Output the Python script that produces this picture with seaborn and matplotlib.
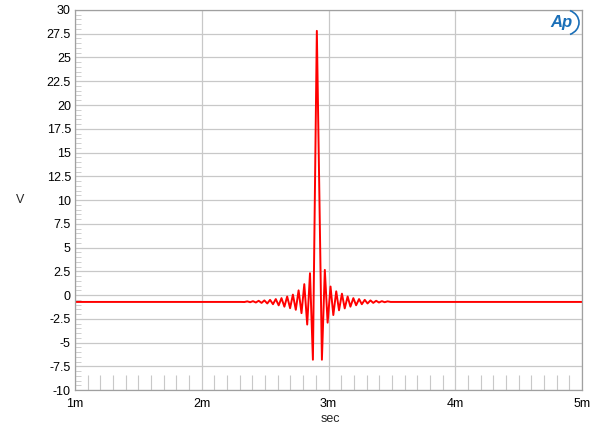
import numpy as np
import pandas as pd
import matplotlib
matplotlib.use("Agg")
import matplotlib.pyplot as plt
import seaborn as sns
from matplotlib.patches import Arc

# time in ms, level in V
lead_t = [1.0, 2.31]
lead_v = [-0.72, -0.72]

ring_t = [2.337, 2.359, 2.382, 2.404, 2.427, 2.449, 2.472, 2.494, 2.517, 2.539,
          2.562, 2.584, 2.607, 2.629, 2.652, 2.674, 2.697, 2.719, 2.742, 2.764,
          2.787, 2.809, 2.832, 2.854, 2.877,
          2.908,
          2.948, 2.971, 2.993, 3.016, 3.038, 3.061, 3.083, 3.106, 3.128, 3.151,
          3.173, 3.196, 3.218, 3.241, 3.263, 3.286, 3.308, 3.331, 3.353, 3.376,
          3.398, 3.421, 3.443, 3.466]
ring_v = [-0.73, -0.66, -0.75, -0.64, -0.78, -0.60, -0.82, -0.56, -0.88, -0.50,
          -0.96, -0.42, -1.08, -0.32, -1.22, -0.15, -1.38, 0.05, -1.55, 0.50,
          -1.90, 1.15, -3.10, 2.30, -6.80,
          27.8,
          -6.80, 2.65, -2.90, 0.90, -2.10, 0.40, -1.60, 0.15, -1.40, -0.15,
          -1.22, -0.32, -1.07, -0.42, -0.96, -0.50, -0.88, -0.56, -0.82, -0.60,
          -0.78, -0.64, -0.75, -0.66]

tail_t = [3.49, 5.0]
tail_v = [-0.72, -0.72]

y_ticks = [-10, -7.5, -5, -2.5, 0, 2.5, 5, 7.5, 10, 12.5, 15, 17.5, 20, 22.5, 25, 27.5, 30]
x_ticks = [1, 2, 3, 4, 5]

df = pd.DataFrame({
    "t": lead_t + ring_t + tail_t,
    "v": lead_v + ring_v + tail_v,
})

sns.set_theme(style="white")
plt.rcParams["font.family"] = ["Liberation Sans", "DejaVu Sans"]
plt.rcParams["axes.unicode_minus"] = False

fig = plt.figure(figsize=(6, 4.33), dpi=100)
ax = fig.add_axes([0.125, 0.099, 0.845, 0.878])

sns.lineplot(data=df, x="t", y="v", ax=ax, color="#ff0000", linewidth=1.4,
             estimator=None, sort=False)

ax.set_xlim(1, 5)
ax.set_ylim(-10, 30)
ax.set_xticks(x_ticks)
ax.set_xticklabels([f"{x:g}m" for x in x_ticks])
ax.set_yticks(y_ticks)
ax.set_yticklabels([f"{y:g}" for y in y_ticks])
ax.set_xticks(np.arange(1.1, 5.0, 0.1), minor=True)
ax.set_yticks(np.arange(-10, 30.01, 0.5), minor=True)

ax.grid(True, which="major", color="#c8c8c8", linewidth=0.9)
ax.tick_params(axis="both", which="major", labelsize=9, length=0, colors="black")
ax.tick_params(axis="y", which="major", pad=3)
ax.tick_params(axis="x", which="major", pad=6)
ax.tick_params(axis="x", which="minor", direction="in", length=10.5, width=0.8,
               color="#c8c8c8", bottom=True)
ax.tick_params(axis="y", which="minor", direction="in", length=4, width=0.6,
               color="#c8c8c8", left=True)
for s in ax.spines.values():
    s.set_color("#a0a0a0")
    s.set_linewidth(0.9)

ax.set_xlabel("")
ax.set_ylabel("")
fig.text(330 / 600, 1 - 419 / 433, "sec", fontsize=9, ha="center", va="center")
fig.text(20 / 600, 1 - 200 / 433, "V", fontsize=9, ha="center", va="center")

# Ap logo
fig.text(0.935, 0.948, "Ap", color="#1a6fb8", fontsize=12, fontstyle="italic",
         fontweight="bold", ha="center", va="center")
fig.add_artist(Arc((0.94, 0.948), 0.05, 0.06, theta1=-70, theta2=70,
                   transform=fig.transFigure, color="#1a6fb8", linewidth=1.2))

fig.savefig("out.png", dpi=100)
